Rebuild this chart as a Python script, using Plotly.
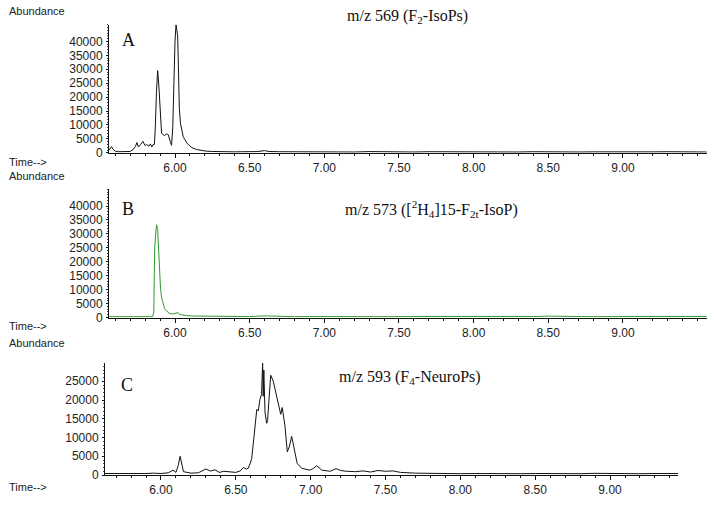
import plotly.graph_objects as go

W, H = 714, 505

# ---------------- data ----------------
# Panel A: m/z 569 (F2-IsoPs)
a_time = [5.558, 5.566, 5.575, 5.585, 5.60, 5.62, 5.65, 5.68, 5.70, 5.72, 5.735, 5.745,
          5.755, 5.77, 5.785, 5.80, 5.81, 5.825, 5.835, 5.845, 5.852, 5.862, 5.868, 5.876,
          5.884, 5.892, 5.90, 5.91, 5.92, 5.93, 5.945, 5.955, 5.968, 5.977, 5.985, 5.993,
          6.00, 6.007, 6.013, 6.018, 6.024, 6.029, 6.037, 6.045, 6.055, 6.067, 6.08, 6.10,
          6.12, 6.145, 6.17, 6.21, 6.25, 6.30, 6.35, 6.40, 6.45, 6.50, 6.55, 6.60, 6.63,
          6.70, 6.80, 6.90, 7.00, 7.10, 7.20, 7.30, 7.40, 7.50, 7.60, 7.70, 7.80, 7.90,
          8.00, 8.10, 8.20, 8.30, 8.40, 8.50, 8.60, 8.70, 8.80, 8.90, 9.00, 9.10, 9.20,
          9.30, 9.40, 9.50, 9.56]
a_abund = [900, 1800, 2200, 1300, 600, 400, 400, 350, 500, 1200, 2300, 3700,
           2100, 3000, 4100, 2600, 3000, 2400, 3200, 2100, 2900, 3000, 9000, 22000,
           29500, 24000, 15900, 7100, 6500, 6200, 6800, 6500, 4100, 2700, 9000, 27700,
           40000, 46000, 44000, 41900, 28000, 15900, 10500, 7700, 5800, 4700, 3500, 2400,
           1700, 1200, 900, 600, 500, 400, 450, 350, 400, 350, 450, 800, 500,
           400, 350, 450, 350, 400, 300, 450, 350, 400, 300, 400, 350, 300,
           400, 300, 350, 300, 400, 300, 350, 300, 350, 300, 400, 300, 350,
           400, 300, 350, 300]

# Panel B: m/z 573 ([2H4]15-F2t-IsoP)
b_time = [5.558, 5.60, 5.70, 5.80, 5.85, 5.858, 5.864, 5.872, 5.877, 5.884, 5.89, 5.895,
          5.903, 5.91, 5.92, 5.93, 5.95, 5.966, 5.99, 6.01, 6.02, 6.03, 6.05, 6.077,
          6.12, 6.20, 6.30, 6.40, 6.50, 6.60, 6.70, 6.80, 6.90, 7.00, 7.20, 7.40, 7.60,
          7.80, 8.00, 8.20, 8.40, 8.50, 8.60, 8.80, 9.00, 9.20, 9.40, 9.56]
b_abund = [300, 300, 350, 300, 300, 2000, 25000, 31000, 33300, 31500, 24000, 16700,
           10500, 7300, 4800, 3200, 2000, 1400, 1300, 1700, 1800, 1100, 900, 700,
           550, 450, 400, 350, 350, 600, 350, 300, 350, 300, 350, 300, 350,
           300, 350, 300, 350, 500, 350, 300, 350, 400, 300, 350]

# Panel C: m/z 593 (F4-NeuroPs)
c_time = [5.626, 5.70, 5.80, 5.90, 5.95, 6.00, 6.05, 6.08, 6.10, 6.115, 6.128, 6.14,
          6.15, 6.20, 6.25, 6.30, 6.33, 6.36, 6.39, 6.42, 6.46, 6.50, 6.53, 6.55, 6.57,
          6.583, 6.595, 6.606, 6.62, 6.632, 6.64, 6.65, 6.661, 6.672, 6.679, 6.683,
          6.687, 6.695, 6.706, 6.712, 6.723, 6.733, 6.75, 6.773, 6.79, 6.80, 6.81,
          6.828, 6.844, 6.857, 6.873, 6.89, 6.91, 6.94, 6.97, 6.995, 7.02, 7.04, 7.074,
          7.10, 7.13, 7.17, 7.20, 7.24, 7.30, 7.35, 7.40, 7.45, 7.50, 7.55, 7.60, 7.70,
          7.80, 7.90, 8.00, 8.10, 8.20, 8.30, 8.40, 8.50, 8.60, 8.70, 8.80, 8.90, 9.00,
          9.10, 9.20, 9.30, 9.40, 9.454]
c_abund = [400, 350, 450, 400, 500, 400, 600, 1300, 700, 2500, 5000, 2500,
           900, 500, 600, 1600, 1050, 1400, 700, 1000, 900, 700, 1100, 2000, 1600,
           1800, 3000, 4400, 9700, 15000, 17500, 17100, 20200, 21500, 29800, 21000,
           28000, 16700, 13800, 14500, 20200, 26600, 25000, 20600, 18000, 16200, 18000,
           13200, 6200, 7500, 10300, 7000, 3100, 1800, 1500, 1300, 1800, 2500, 1300,
           1100, 1000, 1700, 1200, 1000, 900, 1100, 800, 1200, 1000, 1100, 700, 500,
           400, 450, 350, 400, 350, 450, 350, 400, 350, 400, 350, 450, 350,
           400, 350, 400, 350, 400]

y_ticks_ab = [0, 5000, 10000, 15000, 20000, 25000, 30000, 35000, 40000]
y_ticks_c = [0, 5000, 10000, 15000, 20000, 25000]
x_ticks = [6.0, 6.5, 7.0, 7.5, 8.0, 8.5, 9.0]

panel_titles = ["m/z 569 (F<sub>2</sub>-IsoPs)",
                "m/z 573 ([<sup>2</sup>H<sub>4</sub>]15-F<sub>2t</sub>-IsoP)",
                "m/z 593 (F<sub>4</sub>-NeuroPs)"]
panel_letters = ["A", "B", "C"]

# ---------------- layout geometry (pixels) ----------------
def xd(px0, px1):
    return [px0 / W, px1 / W]

def yd(top, bottom):
    return [1 - bottom / H, 1 - top / H]

fig = go.Figure()
fig.add_trace(go.Scatter(x=a_time, y=a_abund, mode="lines", xaxis="x", yaxis="y",
                         line=dict(color="#111111", width=1), showlegend=False))
fig.add_trace(go.Scatter(x=b_time, y=b_abund, mode="lines", xaxis="x2", yaxis="y2",
                         line=dict(color="#2f9a2f", width=1), showlegend=False))
fig.add_trace(go.Scatter(x=c_time, y=c_abund, mode="lines", xaxis="x3", yaxis="y3",
                         line=dict(color="#111111", width=1), showlegend=False))

tickfont = dict(family="Liberation Sans, Arial, sans-serif", size=12, color="#222222")

def xaxis(dom, rng, anchor):
    return dict(domain=dom, range=rng, anchor=anchor, showgrid=False, zeroline=False,
                showline=True, linecolor="#111111", linewidth=1,
                tickvals=x_ticks, tickformat=".2f", ticks="outside", ticklen=4,
                tickcolor="#111111", tickfont=tickfont,
                minor=dict(dtick=0.1, tick0=5.0, ticks="outside", ticklen=2,
                           tickcolor="#111111"))

def yaxis(dom, rng, anchor, tv):
    return dict(domain=dom, range=rng, anchor=anchor, showgrid=False, zeroline=False,
                showline=True, linecolor="#111111", linewidth=1,
                tickvals=tv, tickformat="d", ticks="outside", ticklen=2, tickcolor="#111111",
                tickfont=tickfont, ticklabelstandoff=1,
                minor=dict(dtick=1000, ticks="outside", ticklen=1, tickcolor="#444444"))

ab_x = xd(109, 707)
c_x = xd(105, 678)

fig.update_layout(
    width=W, height=H, margin=dict(l=0, r=0, t=0, b=0),
    paper_bgcolor="white", plot_bgcolor="white",
    xaxis=xaxis(ab_x, [5.558, 9.563], "y"),
    yaxis=yaxis(yd(25, 155), [0, 46000], "x", y_ticks_ab),
    xaxis2=xaxis(ab_x, [5.558, 9.563], "y2"),
    yaxis2=yaxis(yd(192, 322), [0, 46000], "x2", y_ticks_ab),
    xaxis3=xaxis(c_x, [5.626, 9.454], "y3"),
    yaxis3=yaxis(yd(368, 481.7), [0, 29900], "x3", y_ticks_c),
)

anns = []
sans = dict(family="Liberation Sans, Arial, sans-serif", size=11, color="#222222")
serif_t = dict(family="Liberation Serif, Times New Roman, serif", size=16, color="#111111")
serif_l = dict(family="Liberation Serif, Times New Roman, serif", size=18, color="#111111")

abund_y = [11, 178, 348]
time_y = [164, 331, 494]
title_pos = [(345, 17), (343, 212), (337, 383)]
letter_pos = [(128, 41), (128, 212), (127, 390)]

for i in range(3):
    anns.append(dict(text="Abundance", x=7 / W, y=1 - abund_y[i] / H, xref="paper", yref="paper",
                     xanchor="left", yanchor="middle", showarrow=False, font=sans))
    anns.append(dict(text="Time-->", x=7 / W, y=1 - time_y[i] / H, xref="paper", yref="paper",
                     xanchor="left", yanchor="middle", showarrow=False, font=sans))
    anns.append(dict(text=panel_titles[i], x=title_pos[i][0] / W, y=1 - title_pos[i][1] / H,
                     xref="paper", yref="paper", xanchor="left", yanchor="middle",
                     showarrow=False, font=serif_t))
    anns.append(dict(text=panel_letters[i], x=letter_pos[i][0] / W, y=1 - letter_pos[i][1] / H,
                     xref="paper", yref="paper", xanchor="center", yanchor="middle",
                     showarrow=False, font=serif_l))

fig.update_layout(annotations=anns)
fig.write_html("out.html", config={"displayModeBar": False},
               post_script="document.body.style.margin='0';")
